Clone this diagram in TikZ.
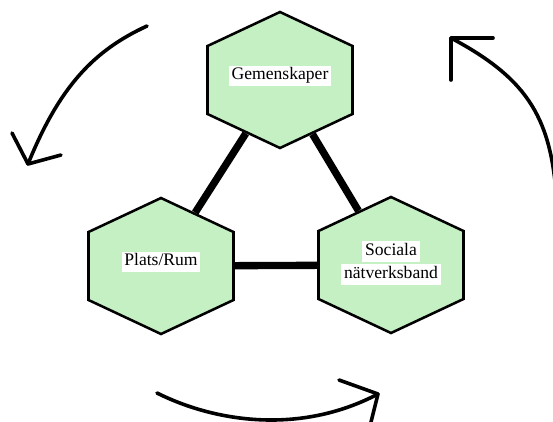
\documentclass[tikz,border=0pt]{standalone}
\usepackage{fontspec}
\setmainfont{Liberation Serif}
\usepackage{tikz}
\usetikzlibrary{shapes.geometric}

\definecolor{hexgreen}{RGB}{196,240,196}
\setlength{\fboxsep}{0.6pt}
\newcommand{\wbox}[1]{\colorbox{white}{\hspace{1.5pt}\strut #1\hspace{1.5pt}}}

\tikzset{
	hexa/.style={regular polygon, regular polygon sides=6, shape border rotate=30,
		minimum size=102pt, inner sep=0pt, xscale=1.231,
		draw=black, line width=1.9pt, fill=hexgreen},
	lbl/.style={inner sep=0pt, align=center, font=\fontsize{13.2}{14.5}\selectfont},
	link/.style={line width=5.5pt},
	sketch/.style={line width=2.7pt, line cap=round, line join=round}
}

\begin{document}
\begin{tikzpicture}[x=0.75pt, y=-0.75pt]
	\useasboundingbox (0, 0) rectangle (553, 421);
	\clip (0, 0) rectangle (553, 421);

	\node[hexa] (gem) at (280, 80)     {};
	
	\node[hexa] (plats) at (161, 266)     {};
	\node[hexa] (soc) at (391, 265)     {};

	\node[lbl] (gemtxt) at ([yshift=3pt]gem.center)     {\wbox{Gemenskaper}};
	\node[lbl] (platstxt) at ([yshift=3pt]plats.center)     {\wbox{Plats/Rum}};
	\node[lbl] (soctxt) at ([yshift=1.5pt]soc.center)     {\wbox{Sociala}\\\wbox{nätverksband}};

	\draw[link] (gem) -- (plats);
	\draw[link] (gem) -- (soc);
	\draw[link] (plats) -- (soc);

	% hand drawn arrows round the triangle
	\coordinate (tlstart) at (147, 26);
	\coordinate (tltip) at (28, 164);
	\coordinate (tlarma) at (12, 133);
	\coordinate (tlarmb) at (61, 155);
	\draw[sketch] (tlstart) .. controls (95, 50) and (60, 85) .. (tltip);
	\draw[sketch] (tlarma) -- (tltip) -- (tlarmb);

	\coordinate (trstart) at (557, 205);
	\coordinate (trtip) at (451, 38);
	\coordinate (trarma) at (493, 38);
	\coordinate (trarmb) at (451, 80);
	\draw[sketch] (trstart) .. controls (552, 120) and (530, 80) .. (trtip);
	\draw[sketch] (trarma) -- (trtip) -- (trarmb);

	\coordinate (bmstart) at (157, 393);
	\coordinate (bmtip) at (378, 394);
	\coordinate (bmarma) at (339, 380);
	\coordinate (bmarmb) at (370, 426);
	\draw[sketch] (bmstart) .. controls (215, 422) and (300, 435) .. (bmtip);
	\draw[sketch] (bmarma) -- (bmtip) -- (bmarmb);
\end{tikzpicture}
\end{document}
